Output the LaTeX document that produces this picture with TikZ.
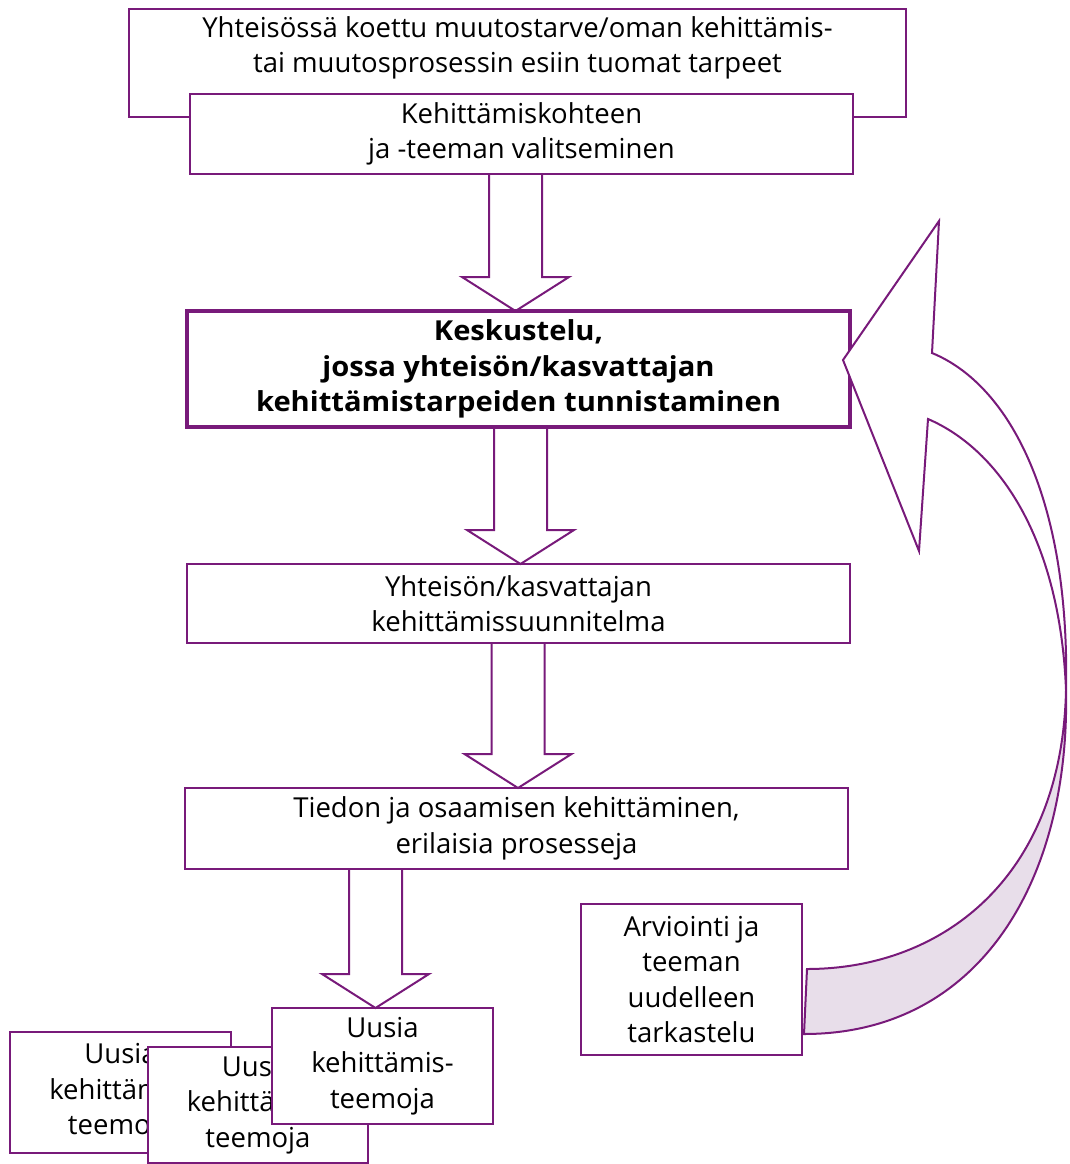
\documentclass[tikz,border=0pt]{standalone}
\usepackage{fontspec}
\setmainfont{Open Sans}[BoldFeatures={FakeStretch=1.06}]
\usetikzlibrary{calc}
\definecolor{pur}{RGB}{120,26,122}
\definecolor{lpur}{RGB}{232,222,234}
\newcommand\fsz{\fontsize{27.5}{35.5}\selectfont}
\tikzset{
  box/.style={draw=pur, line width=2pt, fill=white, inner sep=0pt, outer sep=0pt,
    align=center, font=\fsz, text=black},
  bbox/.style={box, line width=4pt, font=\fsz\bfseries},
  blk/.style={draw=pur, line width=2pt, line join=miter},
  crv/.style={draw=pur, line width=2pt, line join=miter},
}
\begin{document}
\begin{tikzpicture}[x=1pt,y=-1pt]
\useasboundingbox (0,0) rectangle (1069,1164);
% top boxes
\node[box, minimum width=777, minimum height=108] (b1) at (517.5,63) {};
\node[align=center, font=\fsz, inner sep=0pt] (t1) at (517.5,48)
  {Yhteisössä koettu muutostarve/oman kehittämis-\\tai muutosprosessin esiin tuomat tarpeet};
\node[box, minimum width=663, minimum height=80] (b2) at (521.5,134)
  {Kehittämiskohteen\\ja -teeman valitseminen};
\node[bbox, minimum width=663, minimum height=116] (b3) at (518.5,369)
  {Keskustelu,\\jossa yhteisön/kasvattajan\\kehittämistarpeiden tunnistaminen};
\node[box, minimum width=663, minimum height=79] (b4) at (518.5,603.5)
  {Yhteisön/kasvattajan\\kehittämissuunnitelma};
\node[box, minimum width=663, minimum height=81] (b5) at (516.5,828.5)
  {Tiedon ja osaamisen kehittäminen,\\erilaisia prosesseja};
\node[box, minimum width=221, minimum height=151] (b6) at (691.5,979.5)
  {Arviointi ja\\teeman\\uudelleen\\tarkastelu};
% stacked boxes
\node[box, minimum width=221, minimum height=121] (bA) at (120.5,1092.5)
  {Uusia\\kehittämis-\\teemoja};
\node[box, minimum width=220, minimum height=116] (bB) at (258,1105)
  {Uusia\\kehittämis-\\teemoja};
\node[box, minimum width=221, minimum height=116] (bC) at (382.5,1066)
  {Uusia\\kehittämis-\\teemoja};
% block arrows
\foreach \x/\a/\b in {515.5/b2/b3, 520.5/b3/b4, 518/b4/b5, 375.5/b5/bC} {
  \coordinate (ax) at (\x,0);
  \draw[blk] ($(ax |- \a.south)+(-26.5,0)$) -- ($(ax |- \b.north)+(-26.5,-34)$)
    -- ($(ax |- \b.north)+(-53.5,-34)$) -- (ax |- \b.north)
    -- ($(ax |- \b.north)+(53.5,-34)$) -- ($(ax |- \b.north)+(26.5,-34)$)
    -- ($(ax |- \a.south)+(26.5,0)$);
}
% curved arrow from b6 back to b3
\coordinate (tip) at (843,360);
\coordinate (hu) at (939,221);
\coordinate (nt) at (932,353);
\coordinate (nb) at (928,419);
\coordinate (hl) at (919,551);
\coordinate (X) at (1066,690);
\coordinate (ei) at (807,969);
\coordinate (eo) at (804,1034);
\fill[white] (tip) -- (hu) -- (nt) .. controls (1010,385) and (1070,500) .. (X)
  .. controls (1060,540) and (1000,450) .. (nb) -- (hl) -- cycle;
\fill[lpur] (X) .. controls (1062,880) and (940,969) .. (ei) -- (eo)
  .. controls (980,1034) and (1070,880) .. (X);
\draw[crv] (tip) -- (hu) -- (nt) .. controls (1010,385) and (1070,500) .. (X)
  .. controls (1062,880) and (940,969) .. (ei) -- (eo)
  .. controls (980,1034) and (1070,880) .. (X)
  .. controls (1060,540) and (1000,450) .. (nb) -- (hl) -- cycle;
\end{tikzpicture}
\end{document}
